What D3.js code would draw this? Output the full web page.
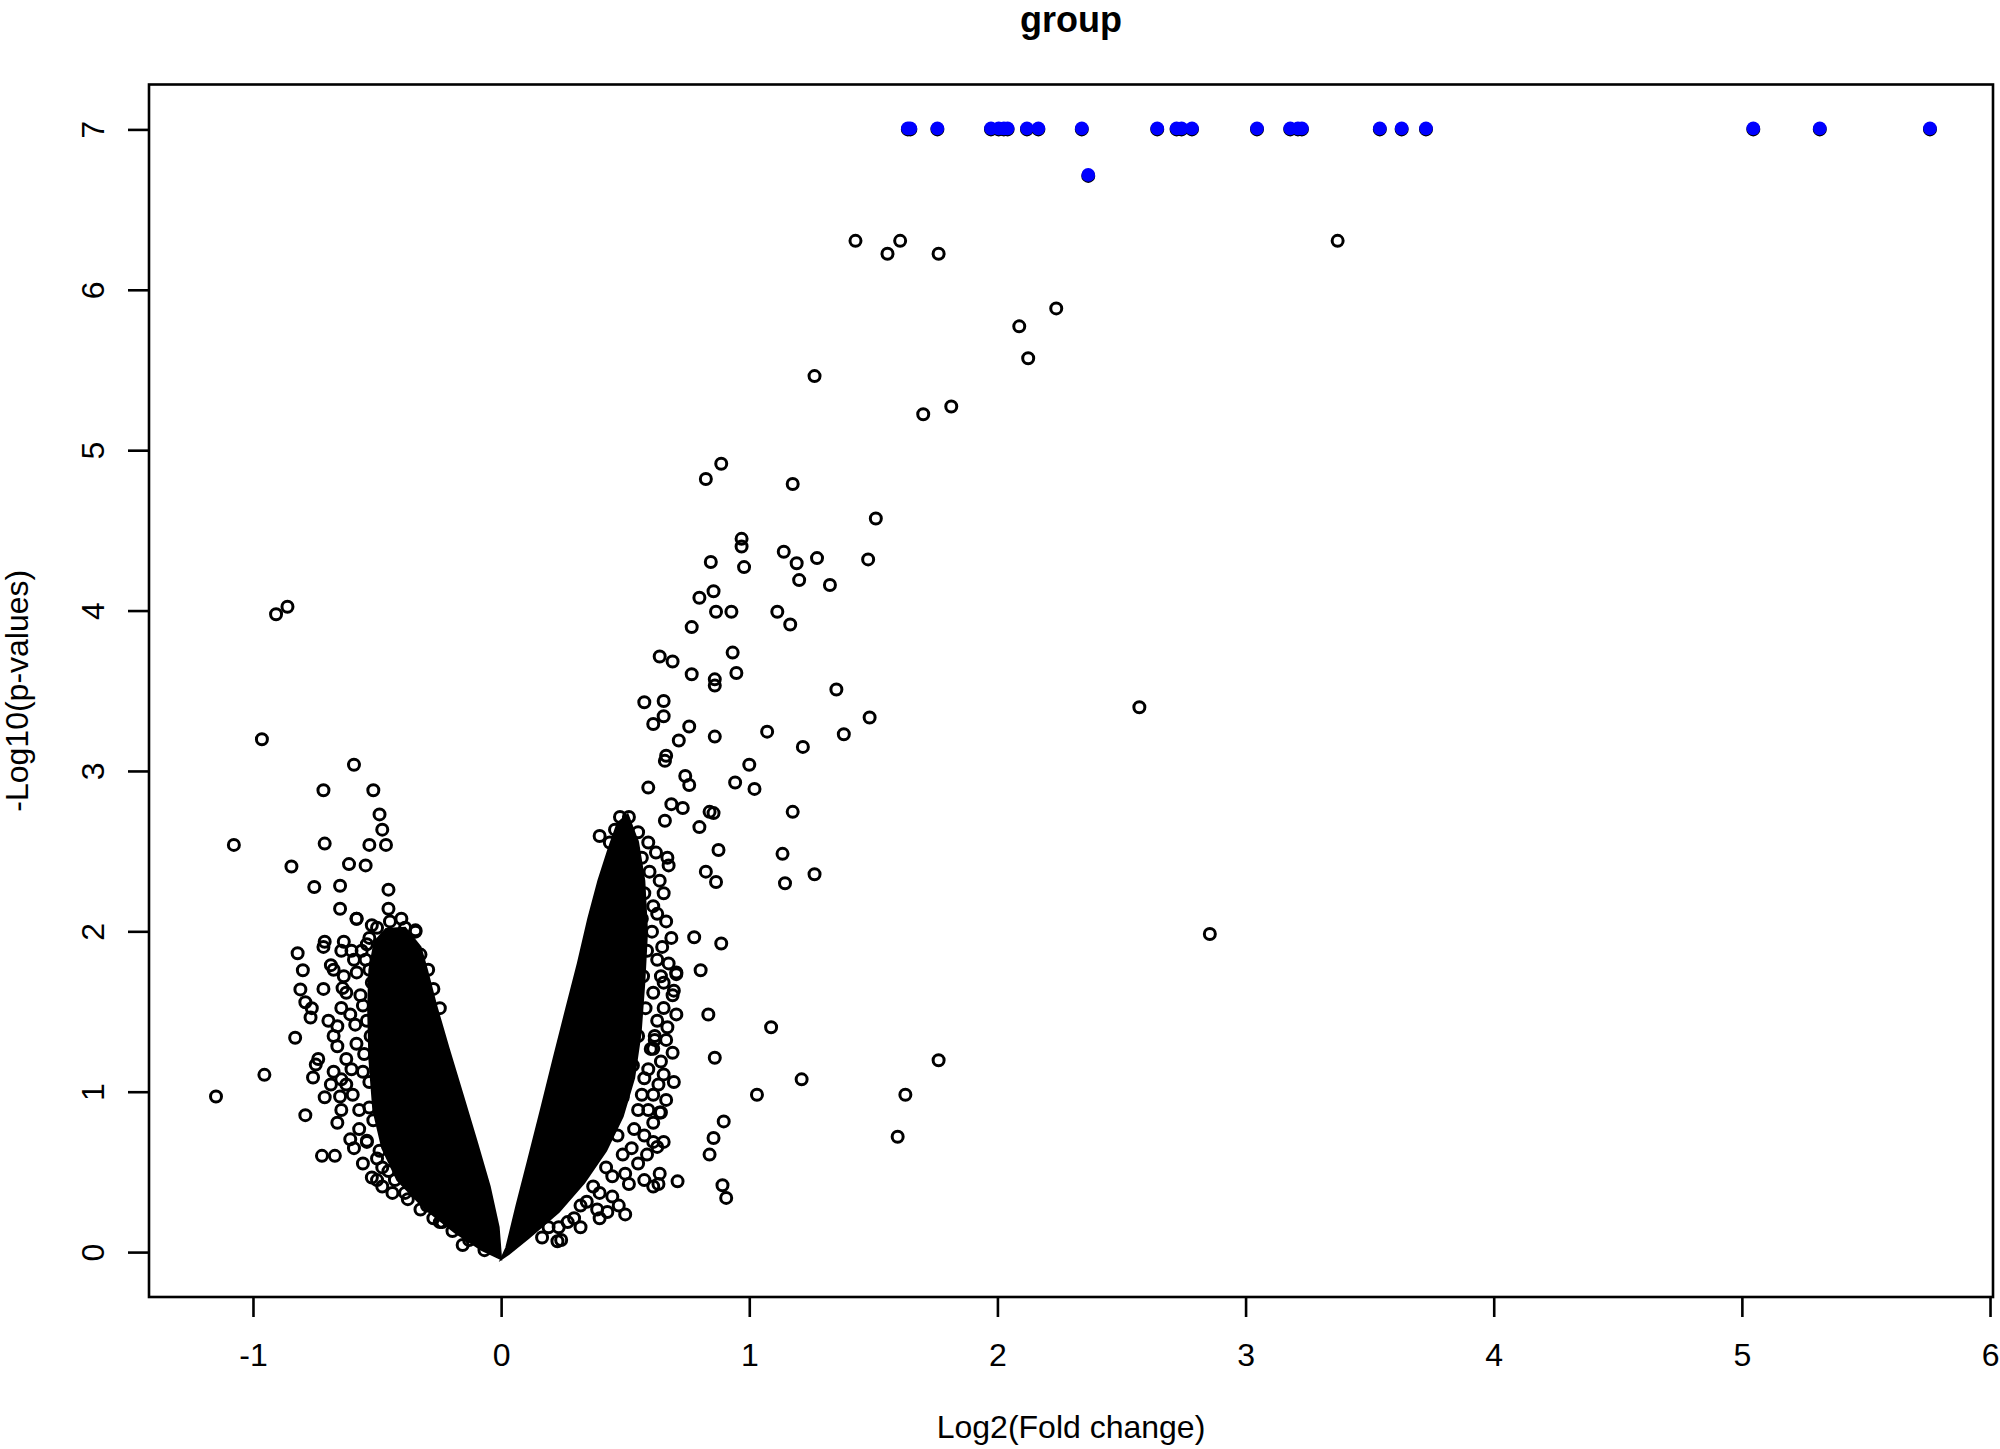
<!DOCTYPE html>
<html>
<head>
<meta charset="utf-8">
<script src="https://cdn.jsdelivr.net/npm/d3@7"></script>
<style>
  html, body { margin: 0; padding: 0; background: #fff; }
  svg { display: block; }
  text { font-family: "Liberation Sans", Arial, sans-serif; fill: #000; }
</style>
</head>
<body>
<svg id="chart" width="2000" height="1449"></svg>
<script>
// ---------------- DATA ----------------
const titleText = "group";
const xLabel = "Log2(Fold change)";
const yLabel = "-Log10(p-values)";
const xTicks = [-1, 0, 1, 2, 3, 4, 5, 6];
const yTicks = [0, 1, 2, 3, 4, 5, 6, 7];

// significant genes (blue)
const sigX = [1.639, 1.649, 1.758, 1.974, 2.005, 2.026, 2.041, 2.119, 2.165, 2.340, 2.644, 2.722, 2.742, 2.784, 3.046, 3.180, 3.211, 3.227, 3.541, 3.629, 3.727, 5.046, 5.314, 5.758, 2.366];
const sigY = [7, 7, 7, 7, 7, 7, 7, 7, 7, 7, 7, 7, 7, 7, 7, 7, 7, 7, 7, 7, 7, 7, 7, 7, 6.71];

// individual (non significant) genes
const geneX = [1.428, 1.608, 1.557, 1.763, 3.371, 2.237, 2.088, 2.124, 1.263, 1.814, 1.701, 0.887, 0.825, 1.175, 1.510, 0.969, 0.969, 1.139, 1.273, 1.479, 0.845, 1.191, 0.979, 1.201, 1.325, 0.799, 0.856, 1.113, 0.866, 0.928, 1.165, 0.768, 0.933, 0.639, 0.691, 0.948, 0.768, 0.861, 0.861, 1.351, 0.577, 0.655, 2.572, 0.655, 1.485, 0.613, 0.758, 1.072, 1.381, 0.716, 0.861, 1.216, 0.665, 0.660, 1.000, 0.943, 1.021, 0.742, 0.758, 0.593, 0.686, 0.732, 0.840, 0.856, 1.175, 0.799, 0.660, 0.876, 1.134, 0.670, 0.675, 0.825, 1.263, 0.866, 1.144, 2.856, 0.887, 0.778, 0.804, 0.706, 0.696, 0.835, 1.088, 0.619, 0.613, 0.861, 1.763, 1.211, 0.696, 1.629, 1.031, 0.639, 0.897, 0.856, 1.598, 0.629, 0.840, 0.711, 0.892, 0.907, 0.634, 0.500, 0.227,
  -0.861, -0.907, -0.964, -0.593, -1.077, -0.515, -0.716, -0.490, -0.479, -0.845, -0.711, -0.531, -0.464, -0.613, -0.546, -0.753, -0.649, -0.454, -0.649, -0.582, -0.345, -0.820, -0.716, -0.711, -0.799, -0.809, -0.686, -0.789, -0.768, -0.830, -0.639, -0.660, -0.747, -0.758, -0.789, -0.954, -1.149, -0.644, -0.649, -0.722, -0.670, -0.541, -0.521, -0.299, -0.237, -0.155];
const geneY = [6.305, 6.305, 6.225, 6.225, 6.305, 5.884, 5.772, 5.573, 5.462, 5.272, 5.224, 4.915, 4.820, 4.789, 4.574, 4.447, 4.399, 4.367, 4.327, 4.319, 4.303, 4.295, 4.271, 4.190, 4.159, 4.080, 4.120, 3.993, 3.993, 3.993, 3.913, 3.897, 3.738, 3.714, 3.682, 3.611, 3.603, 3.571, 3.532, 3.508, 3.428, 3.436, 3.397, 3.341, 3.333, 3.293, 3.277, 3.245, 3.229, 3.190, 3.214, 3.150, 3.095, 3.063, 3.039, 2.928, 2.888, 2.968, 2.912, 2.896, 2.793, 2.769, 2.745, 2.737, 2.745, 2.650, 2.689, 2.507, 2.483, 2.459, 2.411, 2.372, 2.356, 2.308, 2.300, 1.983, 1.924, 1.963, 1.757, 1.733, 1.630, 1.481, 1.402, 1.323, 1.268, 1.212, 1.196, 1.077, 1.061, 0.981, 0.981, 0.870, 0.815, 0.711, 0.719, 0.656, 0.608, 0.441, 0.417, 0.338, 0.425, 0.235, 0.068,
  4.024, 3.977, 3.198, 3.039, 2.539, 2.880, 2.880, 2.729, 2.634, 2.404, 2.547, 2.539, 2.539, 2.419, 2.411, 2.276, 2.284, 2.260, 2.141, 2.078, 2.006, 1.863, 1.903, 1.935, 1.757, 1.638, 1.789, 1.558, 1.463, 1.336, 1.646, 1.408, 1.169, 1.089, 0.854, 1.105, 0.970, 1.077, 0.970, 0.600, 0.600, 0.695, 0.465, 0.290, 0.187, 0.044];

// genes at the ragged outer edges of the two dense wings
const edgeX = [0.479, 0.500, 0.438, 0.526, 0.567, 0.490, 0.536, 0.577, 0.613, 0.567, 0.608, 0.536, 0.588, 0.629, 0.572, 0.613, 0.655, 0.582, 0.629, 0.552, 0.603, 0.665, 0.531, 0.577, 0.634, 0.490, 0.552, 0.613, 0.469, 0.526, 0.588, 0.423, 0.500, 0.577, 0.371, 0.448, 0.320, 0.397, 0.268, 0.191,
  0.397, 0.459, 0.515, 0.552, 0.593, 0.624, 0.598, 0.639, 0.655, 0.629, 0.665, 0.686, 0.649, 0.675, 0.706, 0.644, 0.691, 0.655, 0.706, 0.670, 0.619, 0.691, 0.644, 0.593, 0.655, 0.613, 0.567, 0.665, 0.593, 0.536, 0.644, 0.577, 0.613, 0.490, 0.552, 0.448, 0.515, 0.397, 0.474, 0.345, 0.428, 0.294, 0.232, 0.320, 0.165, 0.242, 0.387, 0.639, 0.613, 0.655,
  -0.583, -0.521, -0.454, -0.402, -0.345, -0.541, -0.593, -0.531, -0.634, -0.567, -0.608, -0.541, -0.675, -0.583, -0.624, -0.557, -0.686, -0.598, -0.531, -0.660, -0.572, -0.500, -0.593, -0.454, -0.387, -0.273, -0.325, -0.294, -0.273, -0.247, -0.711, -0.737, -0.763, -0.634,
  -0.500, -0.448, -0.387, -0.531, -0.562, -0.603, -0.546, -0.582, -0.521, -0.624, -0.557, -0.644, -0.588, -0.526, -0.660, -0.552, -0.603, -0.675, -0.531, -0.624, -0.572, -0.644, -0.515, -0.608, -0.541, -0.490, -0.557, -0.479, -0.428, -0.500, -0.376, -0.438, -0.325, -0.247, -0.196, -0.129, -0.067, -0.696, -0.716, -0.675, -0.644, -0.479];
const edgeY = [2.713, 2.650, 2.554, 2.554, 2.459, 2.435, 2.332, 2.237, 2.157, 2.078, 1.998, 1.943, 1.879, 1.823, 1.720, 1.617, 1.680, 1.521, 1.442, 1.347, 1.267, 1.323, 1.164, 1.084, 1.045, 0.965, 0.886, 0.806, 0.727, 0.648, 0.608, 0.528, 0.489, 0.449, 0.409, 0.346, 0.290, 0.211, 0.187, 0.155,
  2.594, 2.634, 2.713, 2.618, 2.554, 2.491, 2.372, 2.316, 2.237, 2.109, 2.062, 1.959, 1.903, 1.800, 1.744, 1.720, 1.601, 1.522, 1.482, 1.402, 1.347, 1.243, 1.188, 1.140, 1.108, 0.981, 0.981, 0.949, 0.886, 0.767, 0.870, 0.727, 0.687, 0.608, 0.552, 0.473, 0.425, 0.369, 0.290, 0.314, 0.250, 0.211, 0.155, 0.155, 0.091, 0.075, 0.266, 0.489, 0.409, 0.687,
  2.078, 2.038, 2.141, 2.078, 1.998, 1.919, 1.823, 1.760, 1.720, 1.601, 1.482, 1.442, 1.347, 1.299, 1.204, 1.124, 1.045, 0.981, 0.902, 0.806, 0.767, 0.584, 0.648, 0.505, 0.369, 0.211, 1.855, 1.760, 1.641, 1.521, 0.965, 1.204, 1.521, 1.935,
  2.022, 2.062, 2.022, 1.959, 1.879, 1.879, 1.823, 1.744, 1.680, 1.617, 1.537, 1.522, 1.418, 1.347, 1.283, 1.235, 1.140, 1.124, 1.061, 1.045, 0.886, 0.886, 0.822, 0.703, 0.687, 0.632, 0.552, 0.528, 0.449, 0.449, 0.330, 0.369, 0.266, 0.187, 0.131, 0.075, 0.012, 1.442, 1.641, 1.760, 1.879, 0.409];

// outline of the solid (fully overplotted) part of each wing
const coreLeftX = [-0.510, -0.531, -0.536, -0.531, -0.515, -0.479, -0.418, -0.309, -0.186, -0.077, 0.000, -0.010, -0.046, -0.098, -0.155, -0.211, -0.263, -0.299, -0.325, -0.387, -0.464];
const coreLeftY = [1.935, 1.760, 1.522, 1.204, 0.886, 0.648, 0.449, 0.274, 0.123, 0.012, -0.044, 0.155, 0.409, 0.687, 0.981, 1.267, 1.545, 1.760, 1.903, 2.022, 2.014];
const coreRightX = [0.000, 0.021, 0.062, 0.108, 0.160, 0.211, 0.263, 0.309, 0.351, 0.392, 0.433, 0.469, 0.510, 0.552, 0.577, 0.588, 0.577, 0.562, 0.536, 0.490, 0.423, 0.335, 0.232, 0.113, 0.031];
const coreRightY = [-0.044, 0.028, 0.290, 0.568, 0.886, 1.204, 1.522, 1.800, 2.078, 2.316, 2.515, 2.674, 2.729, 2.554, 2.316, 1.998, 1.680, 1.363, 1.085, 0.846, 0.632, 0.433, 0.250, 0.091, -0.012];

// ---------------- CHART ----------------
const svg = d3.select("#chart");
const box = { left: 149, right: 1993, top: 84.5, bottom: 1297 };

const x = d3.scaleLinear().domain([-1.419, 6.012]).range([box.left, box.right]);
const y = d3.scaleLinear().domain([-0.28, 7.28]).range([box.bottom, box.top]);

// dense wings
const area = d3.line().x(d => x(d[0])).y(d => y(d[1])).curve(d3.curveLinearClosed);
[[coreLeftX, coreLeftY], [coreRightX, coreRightY]].forEach(([xs, ys]) => {
  svg.append("path")
    .attr("d", area(xs.map((v, i) => [v, ys[i]])))
    .attr("fill", "#000").attr("stroke", "#000").attr("stroke-width", 2);
});

const ptR = 5.5, ptW = 3;
const allX = geneX.concat(edgeX, sigX);
const allY = geneY.concat(edgeY, sigY);
svg.append("g").selectAll("circle")
  .data(allX.map((v, i) => [v, allY[i]]))
  .join("circle")
  .attr("cx", d => x(d[0])).attr("cy", d => y(d[1]))
  .attr("r", ptR).attr("fill", "none").attr("stroke", "#000").attr("stroke-width", ptW);

svg.append("g").selectAll("circle")
  .data(sigX.map((v, i) => [v, sigY[i]]))
  .join("circle")
  .attr("cx", d => x(d[0])).attr("cy", d => y(d[1]) - 1)
  .attr("r", 6.8).attr("fill", "#0000ff");

// box
svg.append("rect")
  .attr("x", box.left).attr("y", box.top)
  .attr("width", box.right - box.left).attr("height", box.bottom - box.top)
  .attr("fill", "none").attr("stroke", "#000").attr("stroke-width", 2.6);

// axes
const fmt = d => String(d);
const xAxis = svg.append("g").attr("transform", `translate(0,${box.bottom})`)
  .call(d3.axisBottom(x).tickValues(xTicks).tickSize(20).tickPadding(26).tickFormat(fmt));
xAxis.select(".domain").remove();
xAxis.selectAll(".tick line").attr("stroke", "#000").attr("stroke-width", 2.6);
xAxis.selectAll(".tick text").style("font-size", "32px").attr("font-family", null);

const yAxis = svg.append("g").attr("transform", `translate(${box.left},0)`)
  .call(d3.axisLeft(y).tickValues(yTicks).tickSize(21).tickFormat(fmt));
yAxis.select(".domain").remove();
yAxis.selectAll(".tick line").attr("stroke", "#000").attr("stroke-width", 2.6);
yAxis.selectAll(".tick text")
  .attr("x", null).attr("dy", null)
  .attr("text-anchor", "middle")
  .attr("transform", "translate(-45,0) rotate(-90)")
  .style("font-size", "32px");

// titles
svg.append("text").attr("x", (box.left + box.right) / 2).attr("y", 32)
  .attr("text-anchor", "middle").style("font-size", "36px").style("font-weight", "bold")
  .text(titleText);
svg.append("text").attr("x", (box.left + box.right) / 2).attr("y", 1438)
  .attr("text-anchor", "middle").style("font-size", "32px").text(xLabel);
svg.append("text").attr("transform", `translate(28,${(box.top + box.bottom) / 2}) rotate(-90)`)
  .attr("text-anchor", "middle").style("font-size", "32px").text(yLabel);
</script>
</body>
</html>
